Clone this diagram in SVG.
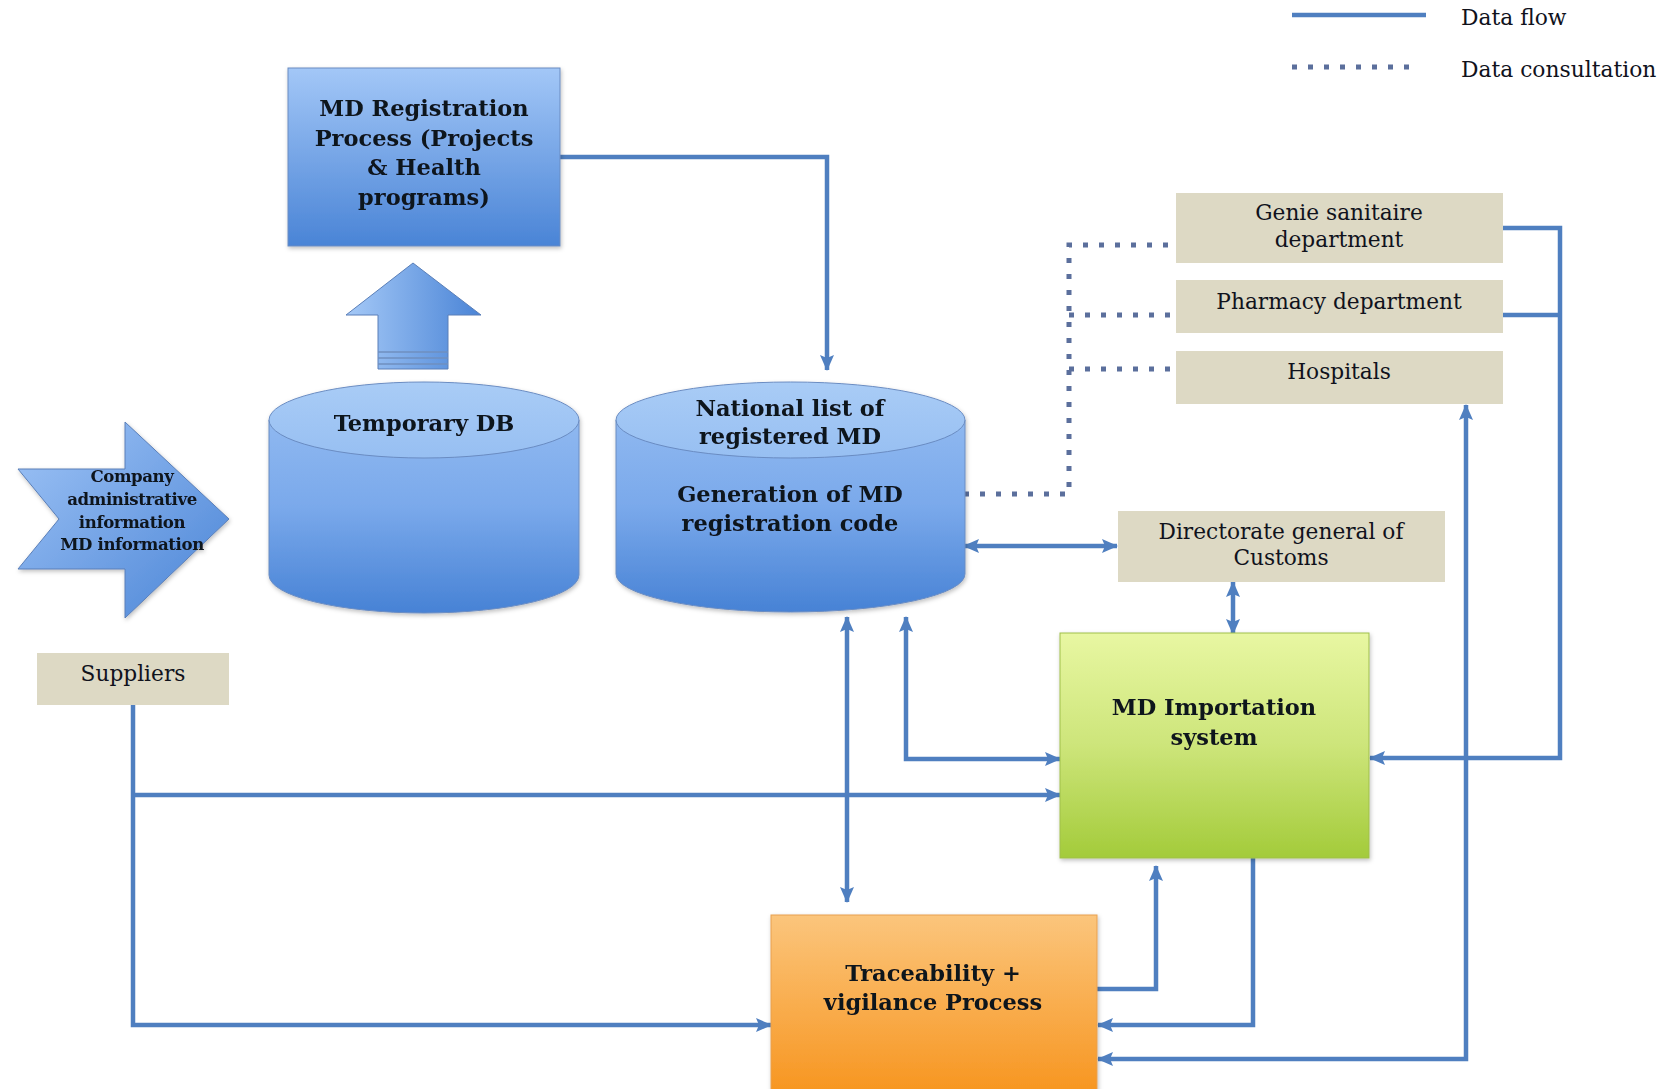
<svg xmlns="http://www.w3.org/2000/svg" width="1663" height="1089" viewBox="0 0 1663 1089">
<style>
  .t { font-family: "DejaVu Serif", "Liberation Serif", serif; fill: #10121c; text-anchor: middle; }
  .b { font-weight: bold; font-size: 22.5px; }
  .r { font-size: 21.7px; }
  .sm { font-weight: bold; font-size: 16.6px; letter-spacing: -0.4px; }
  .leg { font-family: "DejaVu Serif", "Liberation Serif", serif; fill: #10121c; font-size: 21.8px; }
  .flow { fill: none; stroke: #4f7fc0; stroke-width: 4.5; stroke-linejoin: miter; }
  .dot { fill: none; stroke: #5b6f9c; stroke-width: 5; stroke-dasharray: 5 11; }
  .tan { fill: #ddd9c4; }
  .edge { stroke: #6a8cc2; stroke-width: 1; }
</style>
<defs>
  <linearGradient id="gBlue" x1="0" y1="0" x2="0" y2="1">
    <stop offset="0" stop-color="#a3c7f7"/>
    <stop offset="1" stop-color="#4a84d6"/>
  </linearGradient>
  <linearGradient id="gCyl" x1="0" y1="0" x2="0" y2="1">
    <stop offset="0" stop-color="#8fb8f0"/>
    <stop offset="0.45" stop-color="#7aa9eb"/>
    <stop offset="1" stop-color="#4782d5"/>
  </linearGradient>
  <linearGradient id="gTop" x1="0" y1="0" x2="0" y2="1">
    <stop offset="0" stop-color="#a9ccf6"/>
    <stop offset="1" stop-color="#97bff2"/>
  </linearGradient>
  <linearGradient id="gUp" x1="0" y1="0" x2="1" y2="0">
    <stop offset="0" stop-color="#a5c9f7"/>
    <stop offset="1" stop-color="#4a84d6"/>
  </linearGradient>
  <linearGradient id="gCo" x1="0" y1="0" x2="1" y2="1">
    <stop offset="0" stop-color="#9fc4f6"/>
    <stop offset="1" stop-color="#4a84d6"/>
  </linearGradient>
  <linearGradient id="gGreen" x1="0" y1="0" x2="0" y2="1">
    <stop offset="0" stop-color="#e8f7a2"/>
    <stop offset="0.5" stop-color="#cde57a"/>
    <stop offset="1" stop-color="#a3cb3a"/>
  </linearGradient>
  <linearGradient id="gOrange" x1="0" y1="0" x2="0" y2="1">
    <stop offset="0" stop-color="#fbc57c"/>
    <stop offset="1" stop-color="#f7951f"/>
  </linearGradient>
  <filter id="sh" x="-10%" y="-10%" width="120%" height="120%">
    <feDropShadow dx="1" dy="2" stdDeviation="2" flood-color="#000" flood-opacity="0.25"/>
  </filter>
  <marker id="arr" markerUnits="userSpaceOnUse" markerWidth="16" markerHeight="16" viewBox="0 0 16 16" refX="15" refY="8" orient="auto-start-reverse">
    <path d="M0,1 L16,8 L0,15 L3,8 Z" fill="#4f7fc0"/>
  </marker>
</defs>

<rect width="1663" height="1089" fill="#ffffff"/>

<g id="legend">
  <line x1="1292" y1="15" x2="1426" y2="15" class="flow"/>
  <text x="1461" y="25" class="leg">Data flow</text>
  <line x1="1292" y1="67" x2="1416" y2="67" class="dot" stroke="#8e9bb8"/>
  <text x="1461" y="77" class="leg">Data consultation</text>
</g>

<g id="connectors">
  <path class="flow" d="M559,157 H827 V370" marker-end="url(#arr)"/>
  <path class="flow" d="M133,705 V1025 H771" marker-end="url(#arr)"/>
  <path class="flow" d="M133,795 H1060" marker-end="url(#arr)"/>
  <path class="flow" d="M964,546 H1117" marker-start="url(#arr)" marker-end="url(#arr)"/>
  <path class="flow" d="M1233,582 V634" marker-start="url(#arr)" marker-end="url(#arr)"/>
  <path class="flow" d="M847,617 V902" marker-start="url(#arr)" marker-end="url(#arr)"/>
  <path class="flow" d="M906,617 V759 H1060" marker-start="url(#arr)" marker-end="url(#arr)"/>
  <path class="flow" d="M1503,228 H1560 V758 H1370" marker-end="url(#arr)"/>
  <path class="flow" d="M1503,315 H1560"/>
  <path class="flow" d="M1097,989 H1156 V866" marker-end="url(#arr)"/>
  <path class="flow" d="M1253,858 V1025 H1098" marker-end="url(#arr)"/>
  <path class="flow" d="M1466,405 V1059 H1098" marker-start="url(#arr)" marker-end="url(#arr)"/>
  <path class="dot" d="M964,494 H1069 V245 H1176"/>
  <path class="dot" d="M1069,315 H1176"/>
  <path class="dot" d="M1069,369 H1176"/>
</g>

<g id="md-registration" filter="url(#sh)">
  <rect x="288" y="68" width="272" height="178" fill="url(#gBlue)" class="edge"/>
  <text class="t b" x="424" y="116">MD Registration</text>
  <text class="t b" x="424" y="146">Process (Projects</text>
  <text class="t b" x="424" y="175">&amp; Health</text>
  <text class="t b" x="424" y="205">programs)</text>
</g>

<g id="up-arrow">
  <path d="M413,263 L481,315 L448,315 L448,369 L378,369 L378,315 L346,315 Z" fill="url(#gUp)" stroke="#5a7fb8" stroke-width="1"/>
  <line x1="378" y1="352" x2="448" y2="352" stroke="#6f8fbf" stroke-width="1.5"/>
  <line x1="378" y1="358" x2="448" y2="358" stroke="#6f8fbf" stroke-width="1.5"/>
  <line x1="378" y1="364" x2="448" y2="364" stroke="#6f8fbf" stroke-width="1.5"/>
</g>

<g id="temporary-db" filter="url(#sh)">
  <path d="M269,420 V575 A155,38 0 0 0 579,575 V420 Z" fill="url(#gCyl)" class="edge"/>
  <ellipse cx="424" cy="420" rx="155" ry="38" fill="url(#gTop)" class="edge"/>
  <text class="t b" x="424" y="431">Temporary DB</text>
</g>

<g id="national-list" filter="url(#sh)">
  <path d="M616,420 V574 A174.5,38 0 0 0 965,574 V420 Z" fill="url(#gCyl)" class="edge"/>
  <ellipse cx="790.5" cy="420" rx="174.5" ry="38" fill="url(#gTop)" class="edge"/>
  <text class="t b" x="790" y="416">National list of</text>
  <text class="t b" x="790" y="444">registered MD</text>
  <text class="t b" x="790" y="502">Generation of MD</text>
  <text class="t b" x="790" y="531">registration code</text>
</g>

<g id="company-info" filter="url(#sh)">
  <path d="M18,469 L125,469 L125,422 L229,519 L125,618 L125,569 L18,569 L59,519 Z" fill="url(#gCo)" stroke="#5a7fb8" stroke-width="1"/>
  <text class="t sm" x="132" y="482">Company</text>
  <text class="t sm" x="132" y="505">administrative</text>
  <text class="t sm" x="132" y="528">information</text>
  <text class="t sm" x="132" y="550">MD information</text>
</g>

<g id="suppliers">
  <rect x="37" y="653" width="192" height="52" class="tan"/>
  <text class="t r" x="133" y="681">Suppliers</text>
</g>

<g id="genie-sanitaire">
  <rect x="1176" y="193" width="327" height="70" class="tan"/>
  <text class="t r" x="1339" y="220">Genie sanitaire</text>
  <text class="t r" x="1339" y="247">department</text>
</g>

<g id="pharmacy">
  <rect x="1176" y="280" width="327" height="53" class="tan"/>
  <text class="t r" x="1339" y="309">Pharmacy department</text>
</g>

<g id="hospitals">
  <rect x="1176" y="351" width="327" height="53" class="tan"/>
  <text class="t r" x="1339" y="379">Hospitals</text>
</g>

<g id="customs">
  <rect x="1118" y="511" width="327" height="71" class="tan"/>
  <text class="t r" x="1281" y="539">Directorate general of</text>
  <text class="t r" x="1281" y="565">Customs</text>
</g>

<g id="md-importation" filter="url(#sh)">
  <rect x="1060" y="633" width="309" height="225" fill="url(#gGreen)" stroke="#9fbf4a" stroke-width="1"/>
  <text class="t b" x="1214" y="715">MD Importation</text>
  <text class="t b" x="1214" y="745">system</text>
</g>

<g id="traceability" filter="url(#sh)">
  <rect x="771" y="915" width="326" height="180" fill="url(#gOrange)" stroke="#e8a050" stroke-width="1"/>
  <text class="t b" x="933" y="981">Traceability +</text>
  <text class="t b" x="933" y="1010">vigilance Process</text>
</g>
</svg>
